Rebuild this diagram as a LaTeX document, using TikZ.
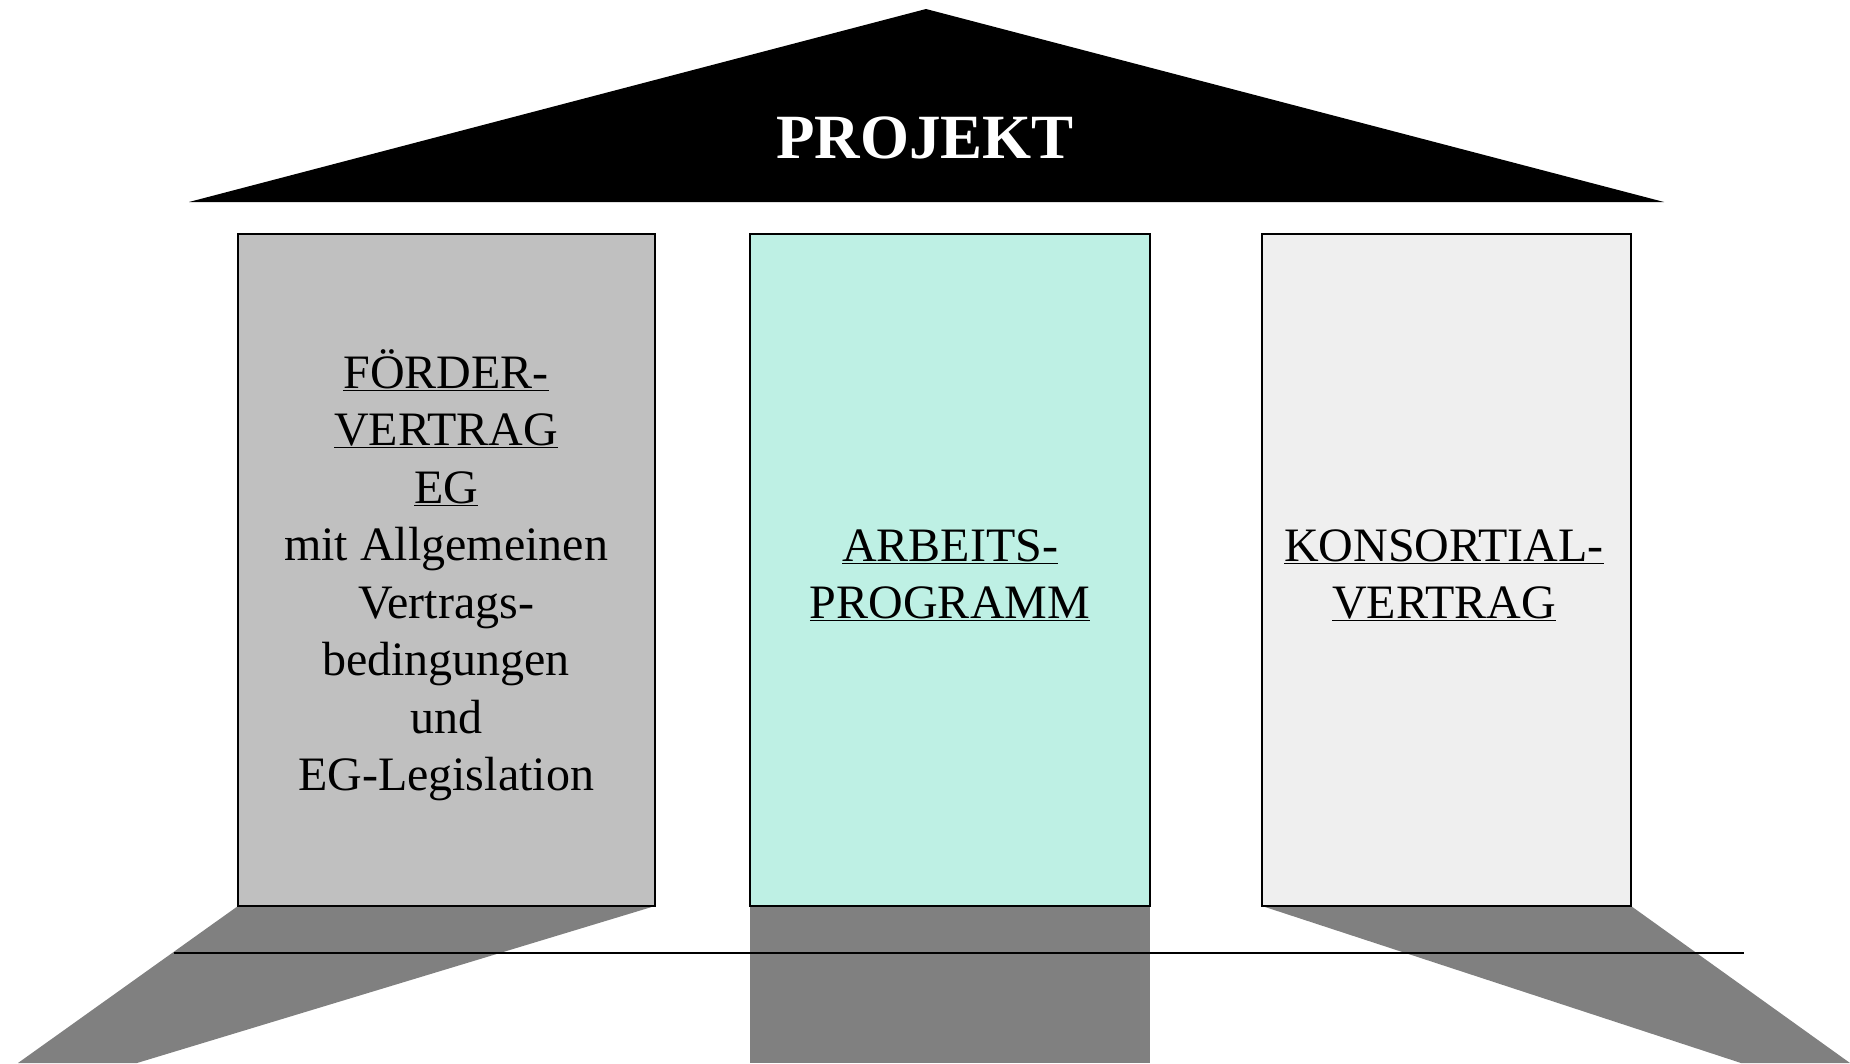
\documentclass[tikz,border=0pt]{standalone}
\usepackage{fontspec}
\setmainfont{Liberation Serif}
\definecolor{leftfill}{HTML}{C0C0C0}
\definecolor{midfill}{HTML}{BEF0E4}
\definecolor{rightfill}{HTML}{EFEFEF}
\definecolor{shadowgray}{HTML}{808080}
\tikzset{
  pillar/.style={draw=black, line width=1.5pt, rectangle, inner sep=0pt, outer sep=0pt, minimum height=672pt},
  pillartext/.style={anchor=base, inner sep=0pt, font=\fontsize{48}{57.5}\selectfont},
  groundline/.style={draw=black, line width=2pt}
}
\begin{document}
\begin{tikzpicture}[x=1pt,y=-1pt]
\useasboundingbox (0,0) rectangle (1850,1063);
% pillars
\node[pillar, fill=leftfill, minimum width=417pt] (p1) at (446.5,570) {};
\node[pillar, fill=midfill, minimum width=400pt] (p2) at (950,570) {};
\node[pillar, fill=rightfill, minimum width=369pt] (p3) at (1446.5,570) {};
% shadow end points
\coordinate (s1a) at (18,1063);
\coordinate (s1b) at (137,1063);
\coordinate (s2a) at (750,1063);
\coordinate (s2b) at (1150,1063);
\coordinate (s3a) at (1741,1063);
\coordinate (s3b) at (1850,1063);
\fill[shadowgray] (p1.south west) -- (p1.south east) -- (s1b) -- (s1a) -- cycle;
\fill[shadowgray] (p2.south west) -- (p2.south east) -- (s2b) -- (s2a) -- cycle;
\fill[shadowgray] (p3.south west) -- (p3.south east) -- (s3b) -- (s3a) -- cycle;
% ground line
\coordinate (g1) at (174,953);
\coordinate (g2) at (1744,953);
\draw[groundline] (g1) -- (g2);
% redraw pillars on top
\node[pillar, fill=leftfill, minimum width=417pt] at (p1.center) {};
\node[pillar, fill=midfill, minimum width=400pt] at (p2.center) {};
\node[pillar, fill=rightfill, minimum width=369pt] at (p3.center) {};
% roof
\coordinate (r1) at (189,202);
\coordinate (r2) at (926,9);
\coordinate (r3) at (1664,202);
\fill[black] (r1) -- (r2) -- (r3) -- cycle;
\node[anchor=base, inner sep=0pt, text=white, font=\fontsize{63}{70}\selectfont\bfseries] (roof) at (925,158) {PROJEKT};
% texts
\node[pillartext] (t1) at (446,388) {\begin{tabular}[t]{@{}c@{}}\underline{FÖRDER-}\\ \underline{VERTRAG}\\ \underline{EG}\\ mit Allgemeinen\\ Vertrags-\\ bedingungen\\ und\\ EG-Legislation\end{tabular}};
\node[pillartext] (t2) at (950,561) {\begin{tabular}[t]{@{}c@{}}\underline{ARBEITS-}\\ \underline{PROGRAMM}\end{tabular}};
\node[pillartext] (t3) at (1444,561) {\begin{tabular}[t]{@{}c@{}}\underline{KONSORTIAL-}\\ \underline{VERTRAG}\end{tabular}};
\end{tikzpicture}
\end{document}
